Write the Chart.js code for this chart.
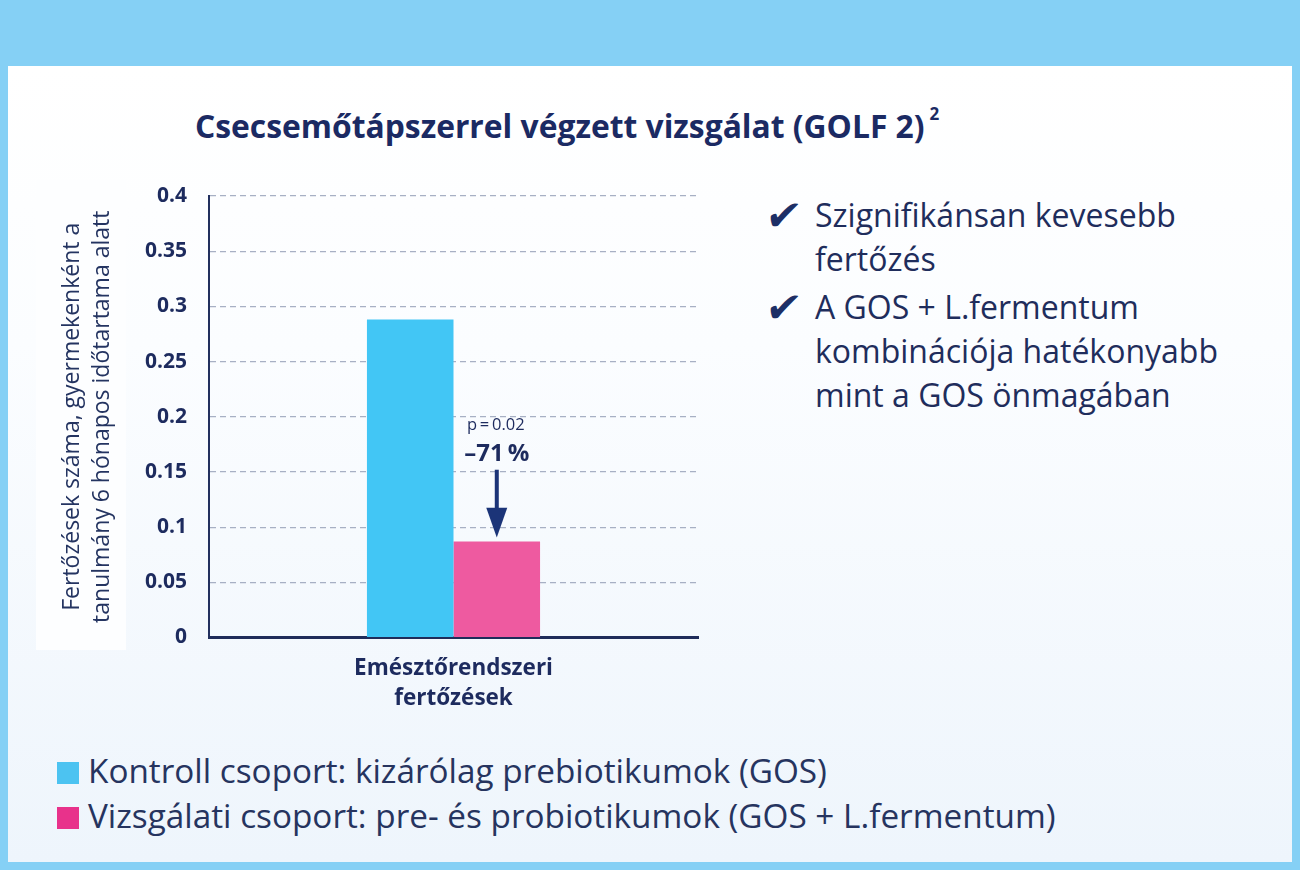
<!DOCTYPE html>
<html>
<head>
<meta charset="utf-8">
<script src="https://cdn.jsdelivr.net/npm/chart.js@4.4.1/dist/chart.umd.min.js"></script>
<style>
  body { margin:0; width:1300px; height:870px; overflow:hidden; background:#85d0f5; font-family:"Open Sans", sans-serif; }
  .panel { position:absolute; left:8px; top:66px; width:1284px; height:796px;
           background:linear-gradient(180deg,#ffffff 0%,#fbfdff 35%,#eef5fc 100%); }
  .ybox { position:absolute; left:36px; top:180px; width:90px; height:470px; background:#fdfeff; }
  .title { position:absolute; left:195px; top:101px; font-size:31.8px; line-height:38px; font-weight:700; color:#1b2a63; white-space:nowrap; }
  .title sup { font-size:17px; position:relative; top:-6px; margin-left:5px; }
  .pts { position:absolute; left:766px; color:#1f2d5c; font-size:32px; line-height:44px; }
  .pts .chk { position:absolute; left:0; top:1px; font-family:"DejaVu Sans"; font-size:42px; line-height:44px; color:#1d2f66; transform:skewX(-8deg); }
  .pts .txt { position:absolute; left:49px; white-space:nowrap; }
  .legend { position:absolute; left:57px; color:#26345f; font-size:33.3px; line-height:44px; white-space:nowrap; }
  .legend .sq { display:inline-block; width:22px; height:22px; margin-right:9px; vertical-align:-1px; }
  #wrap { position:absolute; left:0; top:150px; width:720px; height:570px; }
</style>
</head>
<body>
<div class="panel"></div>
<div class="ybox"></div>
<div class="title">Csecsemőtápszerrel végzett vizsgálat (GOLF 2)<sup>2</sup></div>

<div class="pts" style="top:193px"><span class="chk">✔</span><span class="txt">Szignifikánsan kevesebb<br>fertőzés</span></div>
<div class="pts" style="top:285px"><span class="chk">✔</span><span class="txt">A GOS + L.fermentum<br>kombinációja hatékonyabb<br>mint a GOS önmagában</span></div>

<div id="legend"></div>

<div id="wrap"><canvas id="c" width="720" height="570"></canvas></div>

<script>
// categories and series
var categories = [["Emésztőrendszeri", "fertőzések"]];
var seriesNames = [
  "Kontroll csoport: kizárólag prebiotikumok (GOS)",
  "Vizsgálati csoport: pre- és probiotikumok (GOS + L.fermentum)"
];
var controlValues = [0.288];
var studyValues = [0.087];
var yTickLabels = ["0", "0.05", "0.1", "0.15", "0.2", "0.25", "0.3", "0.35", "0.4"];
var yTitle = ["Fertőzések száma, gyermekenként a", "tanulmány 6 hónapos időtartama alatt"];

// annotation above the study bar (values in y units)
var pText = "p\u2009=\u20090.02";
var pctText = "\u201371\u2009%";
var pAt = 0.192, pctAt = 0.166, arrowFrom = 0.152, arrowHead = 0.1175, arrowTo = 0.0905;

var barColors = ["#42c6f5", "#ee5aa0"];
var legendColors = ["#4cc3f1", "#e8328b"];
var navy = "#1d2b5e";

// html legend
var lg = document.getElementById("legend");
seriesNames.forEach(function(name, i){
  var d = document.createElement("div");
  d.className = "legend";
  d.style.top = (748 + i * 45) + "px";
  d.innerHTML = '<span class="sq" style="background:' + legendColors[i] + '"></span>' + name;
  lg.appendChild(d);
});

var arrowPlugin = {
  id: "arrowNote",
  afterDatasetsDraw: function(chart){
    var ctx = chart.ctx;
    var y = chart.scales.y;
    var bar = chart.getDatasetMeta(1).data[0];
    var x = bar.x;
    ctx.save();
    ctx.fillStyle = navy;
    ctx.textAlign = "center";
    ctx.textBaseline = "middle";
    ctx.font = "16.5px 'Open Sans'";
    ctx.fillText(pText, x - 1, y.getPixelForValue(pAt));
    ctx.font = "bold 24px 'Open Sans'";
    ctx.fillText(pctText, x, y.getPixelForValue(pctAt));
    // arrow
    var yTop = y.getPixelForValue(arrowFrom);
    var yHead = y.getPixelForValue(arrowHead);
    var yTip = y.getPixelForValue(arrowTo);
    ctx.fillStyle = "#1b3478";
    ctx.fillRect(x - 2, yTop, 4, yHead - yTop + 1);
    ctx.beginPath();
    ctx.moveTo(x - 10.5, yHead);
    ctx.lineTo(x + 10.5, yHead);
    ctx.lineTo(x, yTip);
    ctx.closePath();
    ctx.fill();
    ctx.restore();
  }
};

new Chart(document.getElementById("c"), {
  type: "bar",
  data: {
    labels: categories,
    datasets: [
      { label: seriesNames[0], data: controlValues, backgroundColor: barColors[0] },
      { label: seriesNames[1], data: studyValues, backgroundColor: barColors[1] }
    ]
  },
  options: {
    responsive: false,
    animation: false,
    layout: { padding: { top: 46, right: 22, left: 0, bottom: 0 } },
    plugins: { legend: { display: false }, tooltip: { enabled: false } },
    datasets: { bar: { barPercentage: 1, categoryPercentage: 0.354 } },
    scales: {
      x: {
        grid: { display: false },
        border: { display: true, color: "#1f2c5a", width: 3 },
        ticks: { color: navy, font: { family: "Open Sans", size: 22.5, weight: "bold", lineHeight: 1.333 }, padding: 8, maxRotation: 0 },
        afterFit: function(s){ s.height = 82.5; }
      },
      y: {
        min: 0, max: 0.4,
        ticks: {
          stepSize: 0.05,
          color: navy,
          padding: 22,
          font: { family: "Open Sans", size: 21, weight: "bold" },
          callback: function(v, i){ return yTickLabels[i]; }
        },
        grid: {
          drawTicks: false,
          color: function(c){ return c.tick && c.tick.value === 0 ? "rgba(0,0,0,0)" : "#a7b0c4"; },
          lineWidth: 1.2
        },
        border: { display: true, color: "#22305e", width: 2, dash: [6, 4] },
        title: {
          display: true,
          text: yTitle,
          color: "#243461",
          font: { family: "Open Sans", size: 23, lineHeight: 1.3 },
          padding: { top: 57.5, bottom: 0 }
        },
        afterFit: function(s){ s.width = 209; }
      }
    }
  },
  plugins: [arrowPlugin]
});
</script>
</body>
</html>
